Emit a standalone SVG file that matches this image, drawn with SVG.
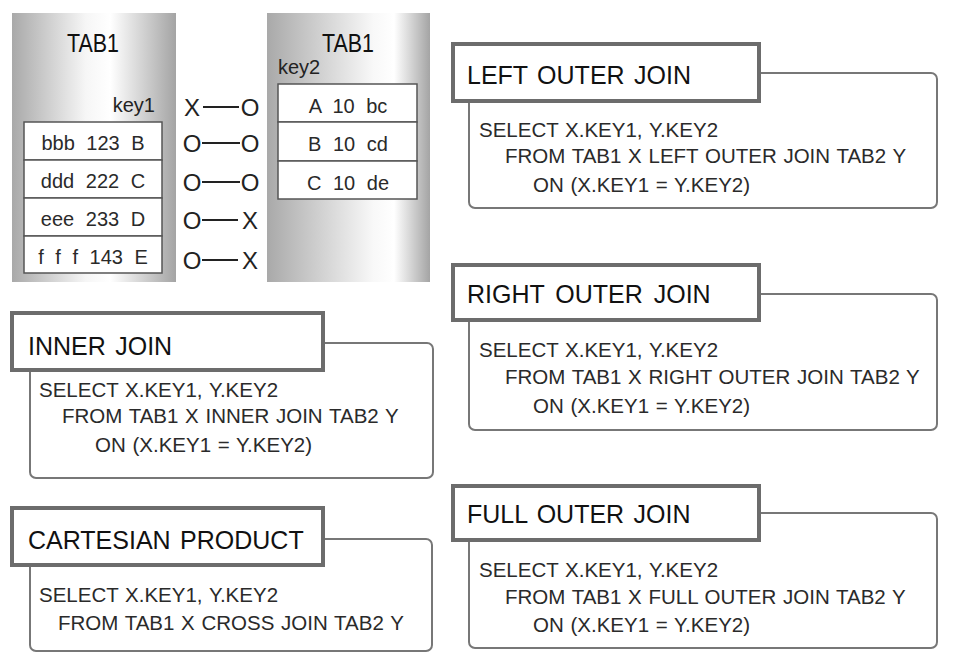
<svg xmlns="http://www.w3.org/2000/svg" width="972" height="661" viewBox="0 0 972 661">
<defs>
<linearGradient id="gL" x1="0" y1="0" x2="1" y2="0">
<stop offset="0" stop-color="#a9a9a9"/>
<stop offset="0.45" stop-color="#f6f6f6"/>
<stop offset="0.6" stop-color="#ffffff"/>
<stop offset="1" stop-color="#a4a4a4"/>
</linearGradient>
<linearGradient id="gR" x1="0" y1="0" x2="1" y2="0">
<stop offset="0" stop-color="#a9a9a9"/>
<stop offset="0.65" stop-color="#f8f8f8"/>
<stop offset="0.78" stop-color="#ffffff"/>
<stop offset="1" stop-color="#a4a4a4"/>
</linearGradient>
<style>
text{font-family:"Liberation Sans",Arial,"Noto Sans",sans-serif;}
.col{stroke:none;}
.cell{fill:#fff;stroke:#555;stroke-width:1.5;}
.tt{font-size:26px;fill:#111;text-anchor:middle;}
.key{font-size:20px;fill:#222;}
.ct{font-size:20px;fill:#2a2a2a;text-anchor:middle;word-spacing:6px;}
.mk{font-size:24px;fill:#222;text-anchor:middle;}
.ln{stroke:#222;stroke-width:1.8;}
.body{fill:#fff;stroke:#777;stroke-width:2;}
.head{fill:#fff;stroke:#6c6c6c;stroke-width:4;}
.ht{font-size:25px;fill:#111;word-spacing:2.5px;}
.sql{font-size:20.5px;fill:#2a2a2a;word-spacing:1px;}
</style>
</defs>
<rect width="972" height="661" fill="#fff"/>

<g id="tab1-left">
<rect class="col" x="12" y="13" width="164" height="269" fill="url(#gL)"/>
<text class="tt" x="93" y="52" textLength="52" lengthAdjust="spacingAndGlyphs">TAB1</text>
<text class="key" x="155" y="112" text-anchor="end">key1</text>
<rect class="cell" x="24" y="122" width="138" height="38"/>
<rect class="cell" x="24" y="160" width="138" height="38"/>
<rect class="cell" x="24" y="198" width="138" height="38"/>
<rect class="cell" x="24" y="236" width="138" height="37"/>
<text class="ct" x="93" y="150">bbb 123 B</text>
<text class="ct" x="93" y="188">ddd 222 C</text>
<text class="ct" x="93" y="226">eee 233 D</text>
<text class="ct" x="93" y="264">f f f 143 E</text>
</g>

<g id="tab1-right">
<rect class="col" x="267" y="13" width="163" height="269" fill="url(#gR)"/>
<text class="tt" x="348" y="52" textLength="52" lengthAdjust="spacingAndGlyphs">TAB1</text>
<text class="key" x="278" y="74">key2</text>
<rect class="cell" x="278" y="84" width="139" height="38"/>
<rect class="cell" x="278" y="122" width="139" height="39"/>
<rect class="cell" x="278" y="161" width="139" height="38"/>
<text class="ct" x="348" y="113">A 10 bc</text>
<text class="ct" x="348" y="151">B 10 cd</text>
<text class="ct" x="348" y="190">C 10 de</text>
</g>

<g id="match-marks">
<text class="mk" x="192" y="116">X</text><text class="mk" x="250" y="116">O</text>
<text class="mk" x="192" y="152">O</text><text class="mk" x="250" y="152">O</text>
<text class="mk" x="192" y="191">O</text><text class="mk" x="250" y="191">O</text>
<text class="mk" x="192" y="229">O</text><text class="mk" x="250" y="229">X</text>
<text class="mk" x="192" y="269">O</text><text class="mk" x="250" y="269">X</text>
</g>

<g id="connectors">
<line class="ln" x1="203" y1="107" x2="239" y2="107"/>
<line class="ln" x1="202" y1="143" x2="240" y2="143"/>
<line class="ln" x1="202" y1="182" x2="240" y2="182"/>
<line class="ln" x1="202" y1="220" x2="238" y2="220"/>
<line class="ln" x1="202" y1="260" x2="238" y2="260"/>
</g>

<g id="inner-join">
<rect class="body" x="30" y="343" width="403" height="135" rx="6"/>
<rect class="head" x="12" y="313" width="311" height="57"/>
<text class="ht" x="28" y="355">INNER JOIN</text>
<text class="sql" x="39" y="397">SELECT X.KEY1, Y.KEY2</text>
<text class="sql" x="62" y="423">FROM TAB1 X INNER JOIN TAB2 Y</text>
<text class="sql" x="95" y="452">ON (X.KEY1 = Y.KEY2)</text>
</g>

<g id="cartesian-product">
<rect class="body" x="30" y="539" width="402" height="112" rx="6"/>
<rect class="head" x="12" y="508" width="311" height="57"/>
<text class="ht" x="28" y="549">CARTESIAN PRODUCT</text>
<text class="sql" x="39" y="602">SELECT X.KEY1, Y.KEY2</text>
<text class="sql" x="58" y="630">FROM TAB1 X CROSS JOIN TAB2 Y</text>
</g>

<g id="left-outer-join">
<rect class="body" x="469" y="73" width="468" height="135" rx="6"/>
<rect class="head" x="453" y="44" width="306" height="57"/>
<text class="ht" x="467" y="84">LEFT OUTER JOIN</text>
<text class="sql" x="479" y="137">SELECT X.KEY1, Y.KEY2</text>
<text class="sql" x="505" y="163">FROM TAB1 X LEFT OUTER JOIN TAB2 Y</text>
<text class="sql" x="533" y="192">ON (X.KEY1 = Y.KEY2)</text>
</g>

<g id="right-outer-join">
<rect class="body" x="469" y="294" width="468" height="136" rx="6"/>
<rect class="head" x="453" y="265" width="306" height="55"/>
<text class="ht" x="467" y="303" style="word-spacing:4px">RIGHT OUTER JOIN</text>
<text class="sql" x="479" y="357">SELECT X.KEY1, Y.KEY2</text>
<text class="sql" x="505" y="384">FROM TAB1 X RIGHT OUTER JOIN TAB2 Y</text>
<text class="sql" x="533" y="413">ON (X.KEY1 = Y.KEY2)</text>
</g>

<g id="full-outer-join">
<rect class="body" x="469" y="513" width="468" height="135" rx="6"/>
<rect class="head" x="453" y="486" width="306" height="54"/>
<text class="ht" x="467" y="523">FULL OUTER JOIN</text>
<text class="sql" x="479" y="577">SELECT X.KEY1, Y.KEY2</text>
<text class="sql" x="505" y="604">FROM TAB1 X FULL OUTER JOIN TAB2 Y</text>
<text class="sql" x="533" y="632">ON (X.KEY1 = Y.KEY2)</text>
</g>
</svg>
